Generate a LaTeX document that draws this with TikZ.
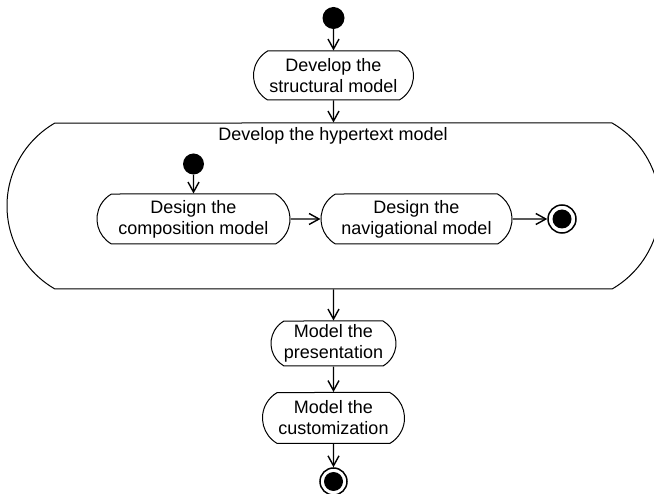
\documentclass[tikz,border=0pt]{standalone}
\usepackage{fontspec}
\setmainfont{Liberation Sans}
\usetikzlibrary{shapes.misc,arrows.meta}
\begin{document}
\begin{tikzpicture}[x=1pt,y=-1pt,
  txt/.style={font=\fontsize{18}{21}\selectfont},
  act/.style={draw, rounded rectangle, rounded rectangle arc length=120, line width=1pt, inner sep=0pt, align=center, txt},
  flow/.style={line width=1.4pt, -{Straight Barb[length=10pt,width=11pt,line width=1.4pt]}},
  startdot/.style={circle, fill=black, inner sep=0pt, minimum size=22pt},
  endring/.style={circle, draw, line width=1.5pt, fill=white, inner sep=0pt, minimum size=27pt, path picture={\fill[black] (path picture bounding box.center) circle (9.5pt);}},
]
\useasboundingbox (0,0) rectangle (654,494);
\node[startdot] (s0) at (333.5,18) {};
\node[act, minimum width=160pt, minimum height=49pt] (b1) at (333.5,75.5) {Develop the\\structural model};
\node[act, minimum width=653pt, minimum height=166pt] (hyp) at (333.5,206) {};
\node[txt] (hyptitle) at (333,136) {Develop the hypertext model};
\node[startdot, minimum size=21pt] (s1) at (193.5,164) {};
\node[act, minimum width=193pt, minimum height=50pt] (comp) at (193.5,219) {Design the\\composition model};
\node[act, minimum width=191pt, minimum height=50pt] (nav) at (416.5,219) {Design the\\navigational model};
\node[endring, minimum size=28pt] (e1) at (562,219) {};
\node[act, minimum width=125pt, minimum height=45pt] (pres) at (333.5,343.5) {Model the\\presentation};
\node[act, minimum width=142pt, minimum height=51pt] (cust) at (333.5,418) {Model the\\customization};
\node[endring] (e2) at (333.5,481.5) {};
\draw[flow] (s0) -- (b1);
\draw[flow] (b1) -- (hyp.north);
\draw[flow] (s1) -- (comp);
\draw[flow] (comp) -- (nav);
\draw[flow] (nav) -- (e1);
\draw[flow] (hyp.south) -- (pres);
\draw[flow] (pres) -- (cust);
\draw[flow] (cust) -- (e2);
\end{tikzpicture}
\end{document}
